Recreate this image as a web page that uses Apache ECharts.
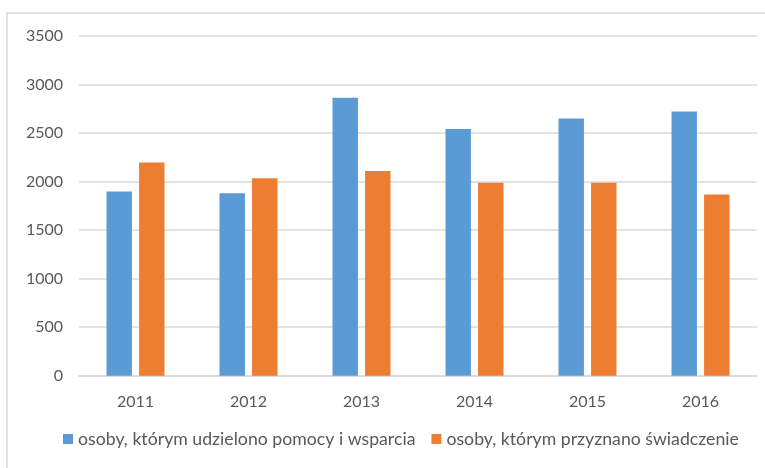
<!DOCTYPE html>
<html><head><meta charset="utf-8">
<script src="https://cdn.jsdelivr.net/npm/echarts@6/dist/echarts.min.js"></script>
<style>html,body{margin:0;padding:0;background:#fff}#c{width:765px;height:468px}</style>
</head><body><div id="c"></div>
<script>
const categories = ['2011','2012','2013','2014','2015','2016'];
const seriesNames = ['osoby, którym udzielono pomocy i wsparcia','osoby, którym przyznano świadczenie'];
const helped = [1897, 1880, 2863, 2543, 2650, 2722];
const granted = [2196, 2035, 2110, 1987, 1987, 1866];
const yTicks = {min:0, max:3500, interval:500};

const chart = echarts.init(document.getElementById('c'), null, {renderer:'canvas'});
const font = 'Lato, "Open Sans", sans-serif';
chart.setOption({
  animation:false,
  graphic:[{type:'rect', shape:{x:7, y:13, width:800, height:500}, style:{fill:'none', stroke:'#d9d9d9', lineWidth:1.5}, silent:true, z:-1}],
  grid:{left:79, right:8, top:36, bottom:92.3},
  legend:{bottom:15, left:58, itemWidth:10, itemHeight:10, itemGap:16, icon:'rect',
    textStyle:{color:'#595959', fontSize:17.7, fontFamily:font},
    data:seriesNames},
  xAxis:{type:'category', data:categories,
    axisLine:{lineStyle:{color:'#d9d9d9', width:1.5}}, axisTick:{show:false},
    axisLabel:{color:'#595959', fontSize:16, fontFamily:font, margin:18}},
  yAxis:{type:'value', min:yTicks.min, max:yTicks.max, interval:yTicks.interval,
    axisLine:{show:false}, axisTick:{show:false},
    splitLine:{lineStyle:{color:'#d9d9d9', width:1.5}},
    axisLabel:{color:'#595959', fontSize:16, fontFamily:font, margin:16, formatter:v => String(v)}},
  series:[
    {name:seriesNames[0], type:'bar', data:helped, barWidth:'22.5%', barGap:'28%', itemStyle:{color:'#5b9bd5'}},
    {name:seriesNames[1], type:'bar', data:granted, barWidth:'22.5%', barGap:'28%', itemStyle:{color:'#ed7d31'}}
  ]
});
</script></body></html>
